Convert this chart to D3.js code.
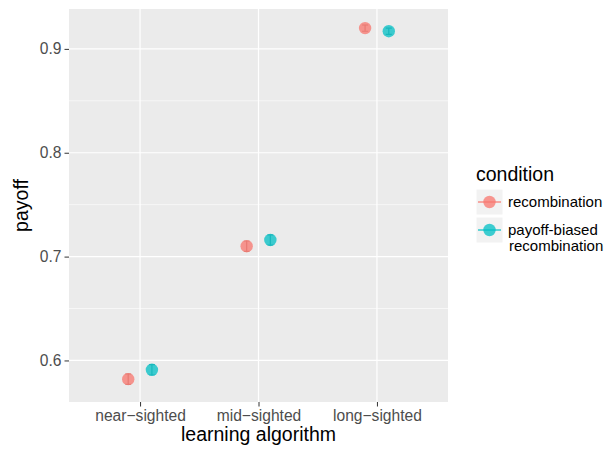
<!DOCTYPE html>
<html>
<head>
    <title>Payoff by learning algorithm</title>
    <script src="https://d3js.org/d3.v7.min.js"></script>
    <style>
        body { margin: 0; background: #fff; }
        svg { font-family: "Liberation Sans", Arial, sans-serif; }
        .tick text { fill: #4D4D4D; font-size: 15.6px; }
        .tick line { stroke: #333; }
        .domain { display: none; }
    </style>
</head>
<body>
<div id="chart"></div>

<script>
    // values
    var algorithms = ["near\u2212sighted", "mid\u2212sighted", "long\u2212sighted"];
    var conditions = ["recombination", "payoff-biased recombination"];
    var conditionLabels = [["recombination"], ["payoff-biased", "recombination"]];
    var recombMean = [0.582, 0.710, 0.920];
    var recombErr = [0.005, 0.005, 0.003];
    var biasedMean = [0.591, 0.716, 0.917];
    var biasedErr = [0.005, 0.005, 0.003];
    var yTicks = [0.6, 0.7, 0.8, 0.9];
    var yMinor = [0.65, 0.75, 0.85];

    var colors = ["#F8766D", "#00BFC4"];

    var data = [];
    algorithms.forEach(function(a, i) {
        data.push({ algo: a, cond: 0, mean: recombMean[i], err: recombErr[i] });
        data.push({ algo: a, cond: 1, mean: biasedMean[i], err: biasedErr[i] });
    });

    var width = 613, height = 450;
    var panel = { left: 69, top: 9, right: 448, bottom: 402 };

    var svg = d3.select("#chart").append("svg")
        .attr("width", width)
        .attr("height", height);

    var x = d3.scalePoint()
        .domain(algorithms)
        .range([panel.left, panel.right])
        .padding(0.6);

    var dodge = d3.scaleLinear()
        .domain([0, 1])
        .range([-0.1 * x.step(), 0.1 * x.step()]);

    var y = d3.scaleLinear()
        .domain([0.56, 0.9384])
        .range([panel.bottom, panel.top]);

    // panel background
    svg.append("rect")
        .attr("x", panel.left)
        .attr("y", panel.top)
        .attr("width", panel.right - panel.left)
        .attr("height", panel.bottom - panel.top)
        .attr("fill", "#EBEBEB");

    // minor grid
    svg.selectAll(".minor")
        .data(yMinor)
        .enter().append("line")
        .attr("x1", panel.left).attr("x2", panel.right)
        .attr("y1", d => y(d)).attr("y2", d => y(d))
        .attr("stroke", "#fff").attr("stroke-width", 0.6);

    // major grid
    svg.selectAll(".hmajor")
        .data(yTicks)
        .enter().append("line")
        .attr("x1", panel.left).attr("x2", panel.right)
        .attr("y1", d => y(d)).attr("y2", d => y(d))
        .attr("stroke", "#fff").attr("stroke-width", 1.2);

    svg.selectAll(".vmajor")
        .data(algorithms)
        .enter().append("line")
        .attr("x1", d => x(d)).attr("x2", d => x(d))
        .attr("y1", panel.top).attr("y2", panel.bottom)
        .attr("stroke", "#fff").attr("stroke-width", 1.2);

    // points with error bars
    var g = svg.selectAll(".pt")
        .data(data)
        .enter().append("g")
        .attr("transform", d => "translate(" + (x(d.algo) + dodge(d.cond)) + ",0)");

    g.append("circle")
        .attr("cx", 0)
        .attr("cy", d => y(d.mean))
        .attr("r", 6.2)
        .attr("fill", d => colors[d.cond])
        .attr("fill-opacity", 0.75);

    g.append("path")
        .attr("d", function(d) {
            var y0 = y(d.mean - d.err), y1 = y(d.mean + d.err);
            return "M-3," + y1 + "H3M0," + y1 + "V" + y0 + "M-3," + y0 + "H3";
        })
        .attr("fill", "none")
        .attr("stroke", d => d3.color(colors[d.cond]).darker(0.3))
        .attr("stroke-opacity", 0.6)
        .attr("stroke-width", 1.2);

    // axes
    svg.append("g")
        .attr("transform", "translate(" + panel.left + ",0)")
        .call(d3.axisLeft(y).tickValues(yTicks).tickFormat(d3.format(".1f")).tickSize(4.5).tickPadding(3));

    svg.append("g")
        .attr("transform", "translate(0," + panel.bottom + ")")
        .call(d3.axisBottom(x).tickSize(4.5).tickPadding(3));

    // axis titles
    svg.append("text")
        .attr("x", (panel.left + panel.right) / 2)
        .attr("y", 441)
        .attr("text-anchor", "middle")
        .style("font-size", "19.5px")
        .text("learning algorithm");

    svg.append("text")
        .attr("transform", "translate(28," + ((panel.top + panel.bottom) / 2) + ") rotate(-90)")
        .attr("text-anchor", "middle")
        .style("font-size", "19.5px")
        .text("payoff");

    // legend
    var legend = svg.append("g").attr("transform", "translate(476,0)");

    legend.append("text")
        .attr("x", 0).attr("y", 181)
        .style("font-size", "19.5px")
        .text("condition");

    var keyY = [189, 217];
    conditions.forEach(function(c, i) {
        var k = legend.append("g").attr("transform", "translate(0," + keyY[i] + ")");
        k.append("rect")
            .attr("width", 27).attr("height", 26)
            .attr("fill", "#F2F2F2")
            .attr("stroke", "#fff");
        k.append("line")
            .attr("x1", 2).attr("x2", 25)
            .attr("y1", 13).attr("y2", 13)
            .attr("stroke", colors[i]).attr("stroke-opacity", 0.75)
            .attr("stroke-width", 1.6);
        k.append("circle")
            .attr("cx", 13.5).attr("cy", 13).attr("r", 6.2)
            .attr("fill", colors[i]).attr("fill-opacity", 0.75);
        conditionLabels[i].forEach(function(line, j) {
            k.append("text")
                .attr("x", j === 0 ? 32 : 33)
                .attr("y", 18 + j * 15.5)
                .style("font-size", "15px")
                .style("fill", "#000")
                .text(line);
        });
    });
</script>
</body>
</html>
